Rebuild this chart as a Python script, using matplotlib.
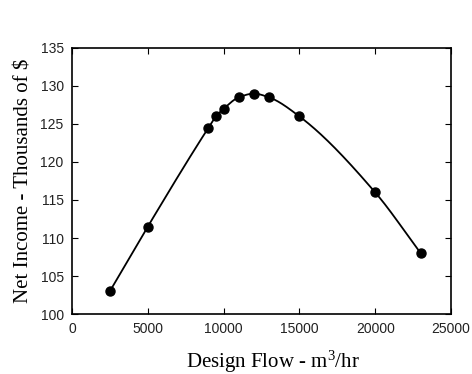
import matplotlib
matplotlib.use('Agg')
import matplotlib.pyplot as plt
import numpy as np

# design flow (m3/hr) vs net income (thousands of $)
flow = [2500, 5000, 9000, 9500, 10000, 11000, 12000, 13000, 15000, 20000, 23000]
income = [103, 111.5, 124.5, 126, 127, 128.5, 129, 128.5, 126, 116, 108]

xticks = [0, 5000, 10000, 15000, 20000, 25000]
yticks = [100, 105, 110, 115, 120, 125, 130, 135]


def pchip(x, y, xs):
    # monotone cubic (Fritsch-Carlson) for a smooth line through the points
    x = np.asarray(x, float)
    y = np.asarray(y, float)
    h = np.diff(x)
    d = np.diff(y) / h
    m = np.zeros_like(y)
    for k in range(1, len(x) - 1):
        if d[k - 1] * d[k] > 0:
            w1 = 2 * h[k] + h[k - 1]
            w2 = h[k] + 2 * h[k - 1]
            m[k] = (w1 + w2) / (w1 / d[k - 1] + w2 / d[k])
    m[0] = d[0]
    m[-1] = d[-1]
    idx = np.clip(np.searchsorted(x, xs) - 1, 0, len(x) - 2)
    t = (xs - x[idx]) / h[idx]
    h00 = 2 * t**3 - 3 * t**2 + 1
    h10 = t**3 - 2 * t**2 + t
    h01 = -2 * t**3 + 3 * t**2
    h11 = t**3 - t**2
    return h00 * y[idx] + h10 * h[idx] * m[idx] + h01 * y[idx + 1] + h11 * h[idx] * m[idx + 1]


plt.rcParams['mathtext.default'] = 'regular'

fig = plt.figure(figsize=(4.72, 3.74), dpi=100)
ax = fig.add_axes([0.1525, 0.1604, 0.803, 0.7113])

xs = np.linspace(flow[0], flow[-1], 400)
ax.plot(xs, pchip(flow, income, xs), color='black', linewidth=1.3)
ax.plot(flow, income, 'o', color='black', markersize=6.5)

ax.set_xlim(0, 25000)
ax.set_ylim(100, 135)
ax.set_xticks(xticks)
ax.set_yticks(yticks)
ax.tick_params(direction='in', top=True, right=True, length=4, width=0.8,
               labelsize=10, pad=6)
for lab in ax.get_xticklabels() + ax.get_yticklabels():
    lab.set_family('Liberation Sans')
    lab.set_color('#222222')
for sp in ax.spines.values():
    sp.set_linewidth(1.2)

xl = ax.set_xlabel('Design Flow - m$^3$/hr', family='Liberation Serif', fontsize=15, labelpad=9)
xl.set_x(0.53)
ax.set_ylabel('Net Income - Thousands of $', family='Liberation Serif', fontsize=15, labelpad=5)

fig.savefig('out.png', dpi=100)
